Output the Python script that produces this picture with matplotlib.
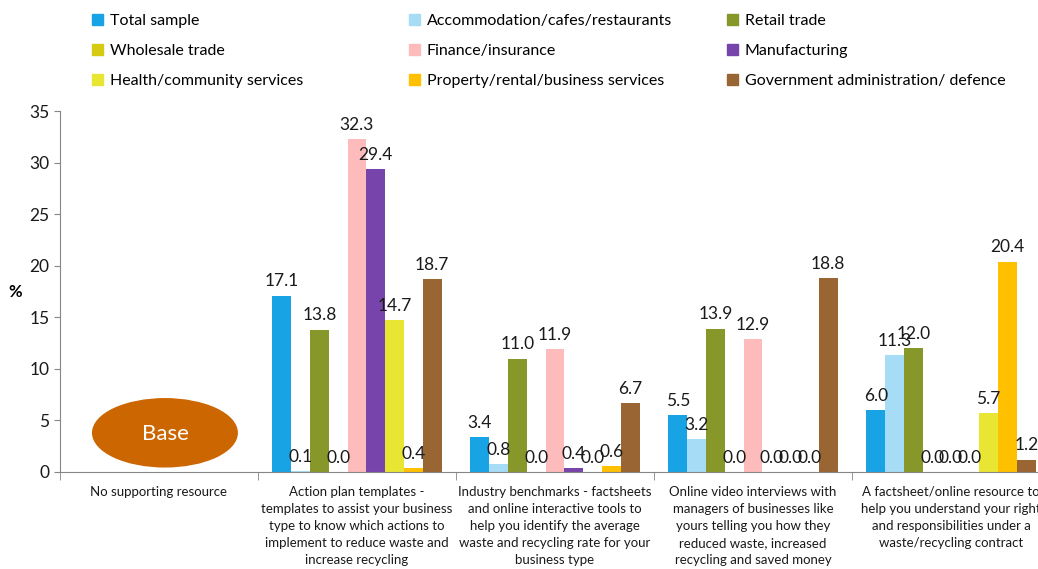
import numpy as np
import matplotlib.pyplot as plt
from matplotlib.patches import Ellipse, Patch

plt.rcParams["font.family"] = ["Lato", "DejaVu Sans"]

categories = [
    "No supporting resource",
    "Action plan templates -\ntemplates to assist your business\ntype to know which actions to\nimplement to reduce waste and\nincrease recycling",
    "Industry benchmarks - factsheets\nand online interactive tools to\nhelp you identify the average\nwaste and recycling rate for your\nbusiness type",
    "Online video interviews with\nmanagers of businesses like\nyours telling you how they\nreduced waste, increased\nrecycling and saved money",
    "A factsheet/online resource to\nhelp you understand your right\nand responsibilities under a\nwaste/recycling contract",
]

series_names = [
    "Total sample", "Accommodation/cafes/restaurants", "Retail trade",
    "Wholesale trade", "Finance/insurance", "Manufacturing",
    "Health/community services", "Property/rental/business services",
    "Government administration/ defence",
]
colors = ["#18A3E5", "#A6DCF5", "#88972A", "#D5CB12", "#FEBBBB",
          "#7744AC", "#E9E633", "#FFC000", "#996633"]

nan = np.nan
total_sample = [nan, 17.1, 3.4, 5.5, 6.0]
accommodation = [nan, 0.1, 0.8, 3.2, 11.3]
retail = [nan, 13.8, 11.0, 13.9, 12.0]
wholesale = [nan, 0.0, 0.0, 0.0, 0.0]
finance = [nan, 32.3, 11.9, 12.9, 0.0]
manufacturing = [nan, 29.4, 0.4, 0.0, 0.0]
health = [nan, 14.7, 0.0, 0.0, 5.7]
property_rental = [nan, 0.4, 0.6, 0.0, 20.4]
government = [nan, 18.7, 6.7, 18.8, 1.2]

series = [total_sample, accommodation, retail, wholesale, finance,
          manufacturing, health, property_rental, government]

fig = plt.figure(figsize=(10.38, 5.69), dpi=100)
ax = fig.add_axes([60 / 1038, 97 / 569, 990 / 1038, 361 / 569])

x = np.arange(len(categories))
n = len(series)
bw = 0.855 / n
for i, (vals, c) in enumerate(zip(series, colors)):
    pos = x - 0.855 / 2 + bw * (i + 0.5)
    ax.bar(pos, vals, width=bw, color=c, label=series_names[i])
    for p, v in zip(pos, vals):
        if np.isnan(v):
            continue
        ax.text(p, v + 0.6, f"{v:.1f}", ha="center", va="bottom",
                fontsize=12.5, color="#1a1a1a")

ax.set_xlim(-0.5, 4.5)
ax.set_ylim(0, 35)
ax.set_yticks(range(0, 36, 5))
ax.tick_params(axis="y", labelsize=12.5, length=4, color="#868686",
               labelcolor="#1a1a1a")
ax.set_xticks(x)
ax.set_xticklabels(categories, fontsize=9.5, linespacing=1.5, color="#1a1a1a")
ax.tick_params(axis="x", length=0, pad=10)
ax.set_xticks(np.arange(-0.5, 5, 1), minor=True)
ax.tick_params(axis="x", which="minor", length=6, color="#868686")

for s in ["top", "right"]:
    ax.spines[s].set_visible(False)
for s in ["left", "bottom"]:
    ax.spines[s].set_color("#868686")

fig.text(15 / 1038, 1 - 292 / 569, "%", fontsize=12, fontweight="bold",
         ha="center", va="center")

# "Base" marker in the empty first category
ax.add_patch(Ellipse((0.03, 3.8), 0.73, 6.6, color="#CC6600", zorder=3))
ax.text(0.03, 3.7, "Base", color="white", fontsize=16, ha="center",
        va="center", zorder=4)

# legend laid out in three fixed columns, filled row by row
col_x = [92, 409, 727]
for col in range(3):
    handles = [Patch(color=colors[r * 3 + col], label=series_names[r * 3 + col])
               for r in range(3)]
    fig.legend(handles=handles, loc="upper left",
               bbox_to_anchor=(col_x[col] / 1038, 1 - 14 / 569),
               frameon=False, fontsize=11.5, handlelength=0.7,
               handleheight=0.7, handletextpad=0.4, labelspacing=1.0,
               borderaxespad=0, borderpad=0)

fig.savefig("out.png", dpi=100)
